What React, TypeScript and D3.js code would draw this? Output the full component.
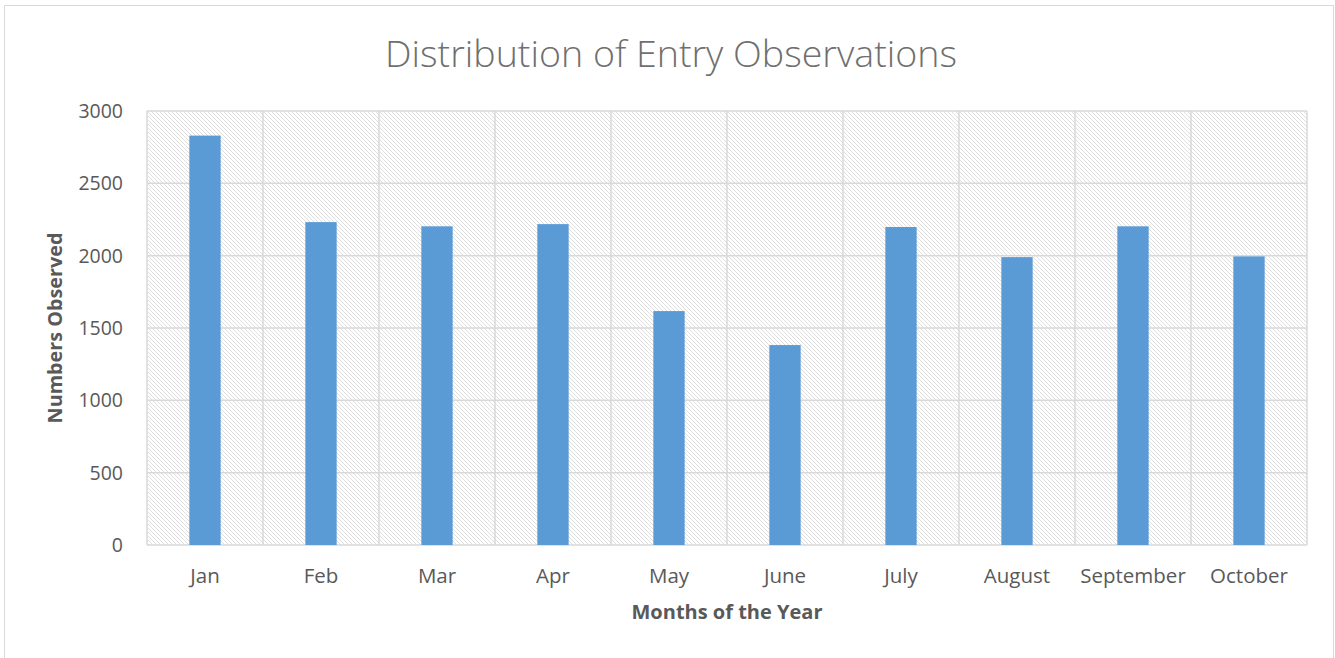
import React from 'react'
import * as d3 from 'd3'

const months = ['Jan', 'Feb', 'Mar', 'Apr', 'May', 'June', 'July', 'August', 'September', 'October']
const observed = [2830, 2232, 2203, 2218, 1617, 1382, 2198, 1990, 2203, 1995]
const yTicks = [0, 500, 1000, 1500, 2000, 2500, 3000]

const W = 1335
const H = 658
const margin = {left: 147, right: 28, top: 111, bottom: 113}
const font = '"Open Sans", "Liberation Sans", sans-serif'

export default function App() {
  const x = d3.scaleBand()
    .domain(months)
    .range([margin.left, W - margin.right])
    .paddingInner(0.73)
    .paddingOuter(0.365)
  const cat = d3.scaleBand().domain(months).range([margin.left, W - margin.right])
  const y = d3.scaleLinear().domain([0, 3000]).range([H - margin.bottom, margin.top])

  const plotW = W - margin.left - margin.right
  const plotH = H - margin.top - margin.bottom

  return (
    <svg width={W} height={H} style={{position: 'absolute', left: 0, top: 0}}>
      <defs>
        <pattern id="hatch" width="4" height="4" patternUnits="userSpaceOnUse">
          <path d="M-1,-1 L5,5 M3,-1 L5,1 M-1,3 L1,5" stroke="#dedede" strokeWidth="1" />
        </pattern>
      </defs>
      <rect x={0} y={0} width={W} height={H} fill="#fff" />
      <rect x={4.5} y={5.5} width={W - 6} height={H} fill="none" stroke="#d9d9d9" strokeWidth={1} />

      <text x={671} y={67} textAnchor="middle" fontFamily={font} fontSize={37.6} fontWeight={300} fill="#6f6f6f">
        Distribution of Entry Observations
      </text>

      <rect x={margin.left} y={margin.top} width={plotW} height={plotH} fill="url(#hatch)" />

      {/* gridlines */}
      {yTicks.map(t => (
        <line key={t} x1={margin.left} x2={W - margin.right} y1={y(t)} y2={y(t)} stroke="#d9d9d9" strokeWidth={1.5} />
      ))}
      {months.map(m => (
        <line key={m} x1={cat(m)} x2={cat(m)} y1={margin.top} y2={H - margin.bottom} stroke="#d9d9d9" strokeWidth={1.5} />
      ))}
      <line x1={W - margin.right} x2={W - margin.right} y1={margin.top} y2={H - margin.bottom} stroke="#d9d9d9" strokeWidth={1.5} />

      {/* bars */}
      {months.map((m, i) => (
        <rect key={m} x={x(m)} y={y(observed[i])} width={x.bandwidth()} height={y(0) - y(observed[i])} fill="#5b9bd5" />
      ))}

      {/* y ticks */}
      {yTicks.map(t => (
        <text key={t} x={123} y={y(t) + 7} textAnchor="end" fontFamily={font} fontSize={19.5} fill="#595959">{t}</text>
      ))}

      {/* x labels */}
      {months.map(m => (
        <text key={m} x={(cat(m) as number) + cat.bandwidth() / 2} y={583} textAnchor="middle" fontFamily={font} fontSize={20.5} fill="#595959">{m}</text>
      ))}

      <text x={727} y={619} textAnchor="middle" fontFamily={font} fontSize={20} fontWeight="bold" fill="#595959">
        Months of the Year
      </text>
      <text transform={`translate(62, ${328}) rotate(-90)`} textAnchor="middle" fontFamily={font} fontSize={19.8} fontWeight="bold" fill="#595959">
        Numbers Observed
      </text>
    </svg>
  )
}
